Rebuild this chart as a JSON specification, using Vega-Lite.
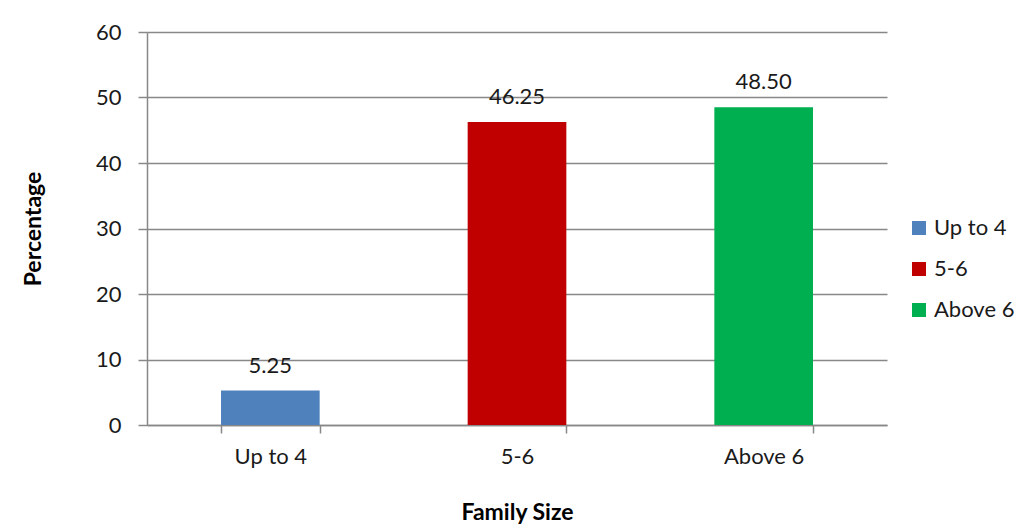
{
  "$schema": "https://vega.github.io/schema/vega-lite/v6.json",
  "width": 740,
  "height": 393,
  "autosize": {"type": "none"},
  "padding": {"left": 147, "top": 32, "right": 132, "bottom": 103},
  "background": "white",
  "config": {
    "view": {"stroke": null},
    "font": "Lato",
    "axis": {"labelFont": "Lato", "titleFont": "Lato", "labelColor": "#1a1a1a", "titleColor": "#000000"}
  },
  "data": {
    "values": [
      {"size": "Up to 4", "pct": 5.25},
      {"size": "5-6", "pct": 46.25},
      {"size": "Above 6", "pct": 48.50}
    ]
  },
  "encoding": {
    "x": {
      "field": "size", "type": "nominal", "sort": ["Up to 4", "5-6", "Above 6"],
      "scale": {"paddingInner": 0.6, "paddingOuter": 0.3},
      "axis": {
        "title": "Family Size", "titleFontSize": 23, "titleFontWeight": "bold", "titlePadding": 34,
        "labelAngle": 0, "labelFontSize": 22, "labelPadding": 13,
        "tickBand": "extent", "tickSize": 8, "tickColor": "#888888", "tickWidth": 1.5,
        "domainColor": "#888888", "domainWidth": 1.5, "grid": false
      }
    },
    "y": {
      "field": "pct", "type": "quantitative",
      "scale": {"domain": [0, 60]},
      "axis": {
        "title": "Percentage", "titleFontSize": 23, "titleFontWeight": "bold", "titlePadding": 50,
        "values": [0, 10, 20, 30, 40, 50, 60], "labelFontSize": 22, "labelPadding": 17,
        "tickSize": 9, "tickColor": "#888888", "tickWidth": 1.5,
        "domainColor": "#888888", "domainWidth": 1.5,
        "grid": true, "gridColor": "#888888", "gridWidth": 1.5
      }
    }
  },
  "layer": [
    {
      "mark": {"type": "bar"},
      "encoding": {
        "color": {
          "field": "size", "type": "nominal", "sort": ["Up to 4", "5-6", "Above 6"],
          "scale": {"domain": ["Up to 4", "5-6", "Above 6"], "range": ["#4F81BD", "#C00000", "#00B050"]},
          "legend": {
            "title": null, "orient": "none", "legendX": 761, "legendY": 185,
            "symbolType": "square", "symbolSize": 196, "symbolStrokeWidth": 0,
            "labelFontSize": 22, "labelFont": "Lato", "labelColor": "#1a1a1a",
            "rowPadding": 19, "labelOffset": 4
          }
        }
      }
    },
    {
      "mark": {"type": "text", "baseline": "alphabetic", "dy": -18, "fontSize": 22, "font": "Lato", "color": "#1a1a1a"},
      "encoding": {
        "text": {"field": "pct", "type": "quantitative", "format": ".2f"}
      }
    }
  ]
}
